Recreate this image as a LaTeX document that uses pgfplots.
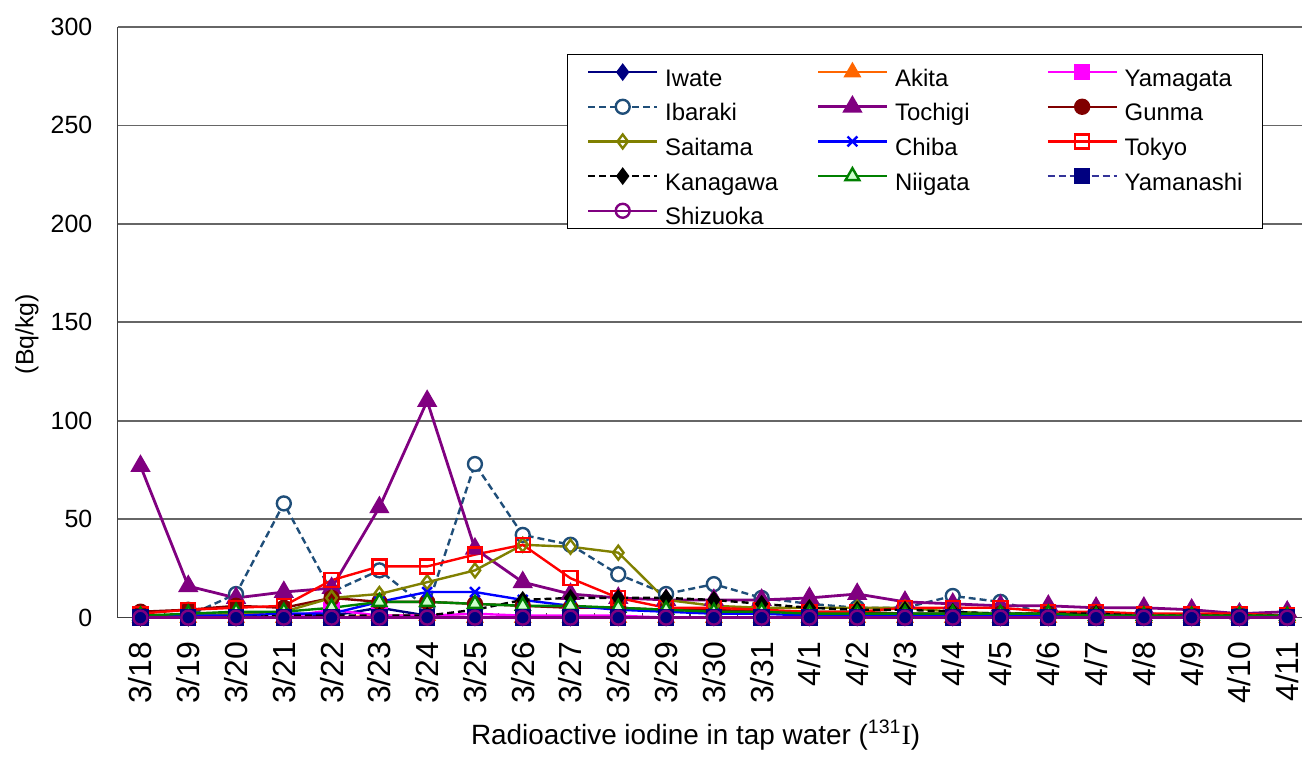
\documentclass[border=0pt]{standalone}
\usepackage{fontspec}
\setmainfont{Liberation Sans}
\newfontfamily\serifI{Liberation Serif}
\usepackage{pgfplots}
\usepackage{pgfplotstable}
\pgfplotsset{compat=1.18}

\definecolor{cIwate}{HTML}{000080}
\definecolor{cAkita}{HTML}{FF6600}
\definecolor{cYamagata}{HTML}{FF00FF}
\definecolor{cIbaraki}{HTML}{1F4E79}
\definecolor{cTochigi}{HTML}{800080}
\definecolor{cGunma}{HTML}{800000}
\definecolor{cSaitama}{HTML}{808000}
\definecolor{cChiba}{HTML}{0000FF}
\definecolor{cTokyo}{HTML}{FF0000}
\definecolor{cNiigata}{HTML}{008000}
\definecolor{cNiigataFill}{HTML}{CCFFCC}
\definecolor{cYamanashi}{HTML}{333399}
\definecolor{cShizuoka}{HTML}{800080}

% 0 = 3/18 ... 24 = 4/11
\pgfplotstableread{
x  Iwate Akita Yamagata Ibaraki Tochigi Gunma Saitama Chiba Tokyo Kanagawa Niigata Yamanashi Shizuoka
0  0 0 0 1  77  3 0  0 2  0  1 0 0
1  0 0 0 1  16  4 1  1 4  0  2 0 0
2  0 0 0 12 10  6 2  1 5  0  3 0 0
3  0 0 0 58 13  5 3  2 6  1  3 0 0
4  1 0 4 13 15  10 10 2 19 1  5 0 0
5  5 1 1 24 56  8 12 8 26 1  8 0 0
6  1 1 1 5  110 8 18 13 26 1 8 0 0
7  0 0 2 78 35  7 24 13 32 4 7 0 0
8  0 0 1 42 18  6 37 9 37 9  6 0 0
9  0 0 1 37 12  5 36 6 20 10 6 0 0
10 0 0 1 22 10  5 33 4 10 10 5 0 0
11 0 0 0 12 9   4 9  3 5  10 4 0 0
12 0 0 0 17 9   4 6  2 5  9  3 0 0
13 0 0 0 10 9   3 5  2 4  7  3 0 0
14 0 0 0 7  10  3 5  1 3  5  2 0 0
15 0 0 0 5  12  3 5  1 3  4  2 0 0
16 0 0 0 5  8   2 5  1 5  4  2 0 0
17 0 0 0 11 7   2 3  1 5  3  2 0 0
18 0 0 0 8  6   2 2  1 5  2  2 0 0
19 0 0 0 2  6   2 1  1 3  2  2 0 0
20 0 0 0 2  5   2 1  1 3  2  1 0 0
21 0 0 0 2  5   2 1  1 2  1  1 0 0
22 0 0 0 1  4   1 1  1 2  1  1 0 0
23 0 0 0 2  2   1 1  1 2  1  1 0 0
24 0 0 0 1  3   1 1  1 1  1  1 0 0
}\data

\newcommand\la[1]{\hspace{3.5pt}\makebox[76pt][l]{#1}}
\newcommand\lb[1]{\hspace{3.5pt}\makebox[59pt][l]{#1}}

\begin{document}
\begin{tikzpicture}
\useasboundingbox (-59pt,-72pt) rectangle (597pt,310pt);
\begin{axis}[
  at={(0,0)}, anchor=south west,
  width=594.5pt, height=296.5pt, scale only axis,
  xmin=-0.48, xmax=24.31,
  ymin=0, ymax=300,
  ytick={0,50,...,300},
  ymajorgrids,
  grid style={black!60, line width=0.8pt},
  axis x line*=bottom, axis y line*=left,
  axis line style={black!75, line width=0.8pt},
  xtick={0,...,24},
  xticklabels={3/18,3/19,3/20,3/21,3/22,3/23,3/24,3/25,3/26,3/27,3/28,3/29,3/30,3/31,4/1,4/2,4/3,4/4,4/5,4/6,4/7,4/8,4/9,4/10,4/11},
  minor xtick={-0.5,0.5,...,23.5},
  major tick length=0pt, minor tick length=2.5pt, tick align=inside,
  minor tick style={black!75, line width=0.6pt},
  xticklabel style={yshift=-8pt, rotate=90, anchor=east, inner sep=0pt, text height=11.5pt, text depth=0pt, font=\fontsize{16}{18}\selectfont},
  xticklabel shift=4pt,
  yticklabel style={inner sep=0pt, font=\fontsize{12.5}{15}\selectfont},
  yticklabel shift=12.5pt,
  /pgf/number format/assume math mode=true,
  xlabel={Radioactive iodine in tap water (\textsuperscript{131}{\serifI I})},
  xlabel style={at={(axis description cs:0.488,-0.2142)}, anchor=base, font=\fontsize{14}{16}\selectfont},
  ylabel={(Bq/kg)},
  ylabel style={at={(axis description cs:-0.0765,0.48)}, anchor=center, font=\fontsize{12.5}{15}\selectfont},
  clip=false,
  every axis plot/.append style={line width=1.2pt},
  legend image code/.code={\draw[mark repeat=2,mark phase=2] plot coordinates {(0pt,0pt) (17.25pt,0pt) (34.5pt,0pt)};},
  legend columns=3,
  legend cell align=left,
  legend style={at={(0.3793,0.9545)}, anchor=north west, draw=black, fill=white,
    inner xsep=10pt, inner ysep=2pt, row sep=3.4pt,
    nodes={inner sep=0pt, text height=14pt, text depth=0pt, font=\fontsize{12}{14}\selectfont}},
]
\addplot[cIwate, mark=diamond*, mark size=3.5pt, mark options={solid, fill=cIwate}] table[x=x, y=Iwate] {\data};
\addplot[cAkita, mark=triangle*, mark size=4pt, mark options={solid, fill=cAkita}] table[x=x, y=Akita] {\data};
\addplot[cYamagata, mark=square*, mark size=3.5pt, mark options={solid, fill=cYamagata}] table[x=x, y=Yamagata] {\data};
\addplot[cIbaraki, dash pattern=on 3.5pt off 2pt, mark=*, mark size=3.5pt, mark options={solid, fill=white}] table[x=x, y=Ibaraki] {\data};
\addplot[cTochigi, line width=1.4pt, mark=triangle*, mark size=4.5pt, mark options={solid, fill=cTochigi}] table[x=x, y=Tochigi] {\data};
\addplot[cGunma, mark=*, mark size=3.5pt, mark options={solid, fill=cGunma}] table[x=x, y=Gunma] {\data};
\addplot[cSaitama, mark=diamond, mark size=3.5pt, mark options={solid, fill=white}] table[x=x, y=Saitama] {\data};
\addplot[cChiba, mark=x, mark size=3.5pt, mark options={solid}] table[x=x, y=Chiba] {\data};
\addplot[cTokyo, mark=square, mark size=3.5pt, mark options={solid}] table[x=x, y=Tokyo] {\data};
\addplot[black, dash pattern=on 3.5pt off 2pt, mark=diamond*, mark size=3.5pt, mark options={solid, fill=black}] table[x=x, y=Kanagawa] {\data};
\addplot[cNiigata, mark=triangle*, mark size=4pt, mark options={solid, fill=cNiigataFill}] table[x=x, y=Niigata] {\data};
\addplot[cYamanashi, dash pattern=on 3.5pt off 2pt, mark=square*, mark size=3.5pt, mark options={solid, draw=cIwate, fill=cIwate}] table[x=x, y=Yamanashi] {\data};
\addplot[cShizuoka, mark=o, mark size=3.5pt, mark options={solid}] table[x=x, y=Shizuoka] {\data};
\legend{\la{Iwate},\la{Akita},\lb{Yamagata},\la{Ibaraki},\la{Tochigi},\lb{Gunma},\la{Saitama},\la{Chiba},\lb{Tokyo},\la{Kanagawa},\la{Niigata},\lb{Yamanashi},\la{Shizuoka}}
\end{axis}
\end{tikzpicture}
\end{document}
